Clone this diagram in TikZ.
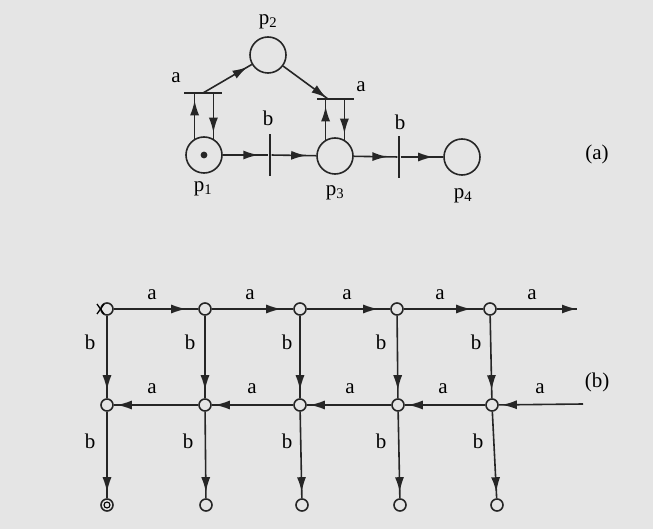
\documentclass[tikz,border=0pt]{standalone}
\usepackage{fontspec}
\setmainfont{Liberation Serif}
\usetikzlibrary{arrows.meta,decorations.markings}
\begin{document}
\begin{tikzpicture}[x=1pt,y=-1pt,
  every node/.style={font=\fontsize{21}{23}\selectfont},
  ln/.style={line width=1.6pt, draw=black!85},
  place/.style={circle, ln, minimum size=36pt, inner sep=0pt},
  st/.style={circle, ln, minimum size=12pt, inner sep=0pt},
  hbar/.style={fill=black!85, minimum width=38pt, minimum height=2.2pt, inner sep=0pt},
  vbar/.style={fill=black!85, minimum width=2.8pt, minimum height=42pt, inner sep=0pt},
  arr/.style={ln, postaction={decorate}, decoration={markings,
     mark=at position #1 with {\arrow{Latex[length=15pt,width=9pt]}}}},
  arr/.default=-9pt,
  lbl/.style={inner sep=1pt}]
\fill[gray!20] (0,0) rectangle (653,529);
\useasboundingbox (0,0) rectangle (653,529);

% ---- (a) Petri net ----
\node[place] (p2) at (268,55) {};
\node[place] (p1) at (204,155) {};
\node[place] (p3) at (335,156) {};
\node[place] (p4) at (462,157) {};
\fill[black!85] (p1.center) circle (3.4);
\node[hbar] (ta1) at (203,93) {};
\node[hbar, minimum width=37pt] (ta2) at (335,99) {};
\node[vbar] (tb1) at (270,155) {};
\node[vbar] (tb2) at (399,157) {};

\node[lbl] (lp2) at (268,22) {p\textsubscript{2}};
\node[lbl] (lp1) at (203,189) {p\textsubscript{1}};
\node[lbl] (lp3) at (335,193) {p\textsubscript{3}};
\node[lbl] (lp4) at (463,196) {p\textsubscript{4}};
\node[lbl] (la1) at (176,78) {a};
\node[lbl] (la2) at (361,87) {a};
\node[lbl] (lb1) at (268,118) {b};
\node[lbl] (lb2) at (400,122) {b};
\node[lbl] (lA) at (597,154) {(a)};

\draw[arr=-5pt] (ta1.center) -- (p2);
\draw[arr=-2pt] (p2) -- ([xshift=-7pt]ta2.center);
\draw[arr=-6pt] (p1.120) -- (p1.120 |- ta1.south);
\draw[arr=-6pt] (p1.60 |- ta1.south) -- (p1.60);
\draw[arr=-6pt] (p3.120) -- (p3.120 |- ta2.south);
\draw[arr=-6pt] (p3.60 |- ta2.south) -- (p3.60);
\draw[arr=-10pt] (p1) -- (tb1);
\draw[arr=-10pt] (tb1) -- (p3);
\draw[arr=-10pt] (p3) -- (tb2);
\draw[arr=-10pt] (tb2) -- (p4);

% ---- (b) reachability graph ----
\foreach \i/\x in {1/107,2/205,3/300,4/397,5/490}
  \node[st] (s1\i) at (\x,309) {};
\foreach \i/\x in {1/107,2/205,3/300,4/398,5/492}
  \node[st] (s2\i) at (\x,405) {};
\foreach \i/\x in {1/107,2/206,3/302,4/400,5/497}
  \node[st] (s3\i) at (\x,505) {};
\draw[line width=1.1pt] (s31.center) circle (3);
\draw[line width=1.3pt] ([xshift=-10pt,yshift=-5pt]s11.center) -- ([xshift=-3pt,yshift=5pt]s11.center);
\draw[line width=1.3pt] ([xshift=-10pt,yshift=5pt]s11.center) -- ([xshift=-3pt,yshift=-5pt]s11.center);

\coordinate (outR) at (577,309);
\coordinate (inR) at (583,404);

\draw[arr=-12pt] (s11) -- (s12);
\draw[arr=-12pt] (s12) -- (s13);
\draw[arr=-12pt] (s13) -- (s14);
\draw[arr=-12pt] (s14) -- (s15);
\draw[arr=1] (s15) -- (outR);
\draw[arr=-3pt] (inR) -- (s25);
\draw[arr=-3pt] (s25) -- (s24);
\draw[arr=-3pt] (s24) -- (s23);
\draw[arr=-3pt] (s23) -- (s22);
\draw[arr=-3pt] (s22) -- (s21);
\foreach \i in {1,...,5} {
  \draw[arr=-8pt] (s1\i) -- (s2\i);
  \draw[arr=-6pt] (s2\i) -- (s3\i);
}

\foreach \x [count=\i] in {152,250,347,440,532}
  \node[lbl] (ta\i) at (\x,295) {a};
\foreach \x [count=\i] in {152,252,350,443,540}
  \node[lbl] (tb\i) at (\x,389) {a};
\foreach \x [count=\i] in {90,190,287,381,476}
  \node[lbl] (ub\i) at (\x,342) {b};
\foreach \x [count=\i] in {90,188,287,381,478}
  \node[lbl] (db\i) at (\x,441) {b};
\node[lbl] (lB) at (597,382) {(b)};
\end{tikzpicture}
\end{document}
